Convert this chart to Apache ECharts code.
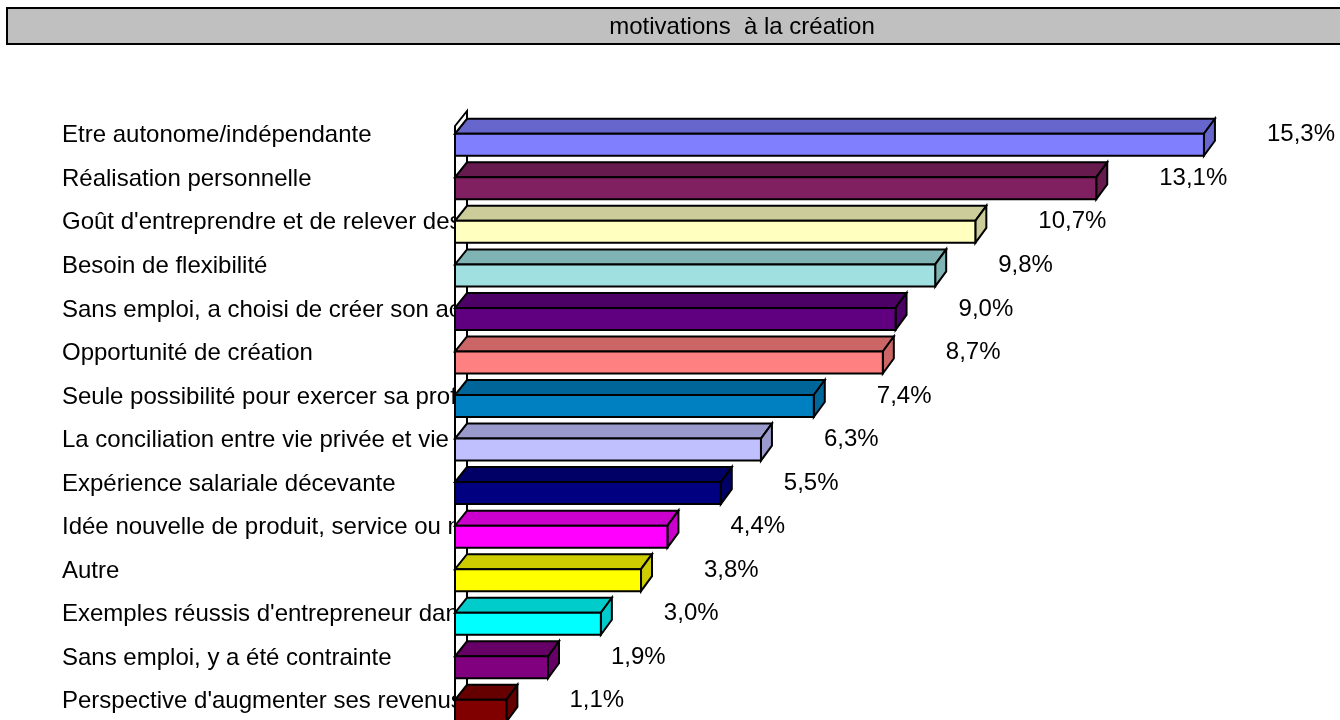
<!DOCTYPE html>
<html>
<head>
<meta charset="utf-8">
<style>html,body{margin:0;padding:0;background:#fff;overflow:hidden}#c{width:1340px;height:720px}</style>
<script src="https://cdn.jsdelivr.net/npm/echarts@6/dist/echarts.min.js"></script>
</head>
<body>
<div id="c"></div>
<script>
const titleText = 'motivations  à la création';
const categories = [
  'Etre autonome/indépendante',
  'Réalisation personnelle',
  "Goût d'entreprendre et de relever des défis",
  'Besoin de flexibilité',
  'Sans emploi, a choisi de créer son activité',
  'Opportunité de création',
  'Seule possibilité pour exercer sa profession',
  'La conciliation entre vie privée et vie professionnelle',
  'Expérience salariale décevante',
  'Idée nouvelle de produit, service ou marché',
  'Autre',
  "Exemples réussis d'entrepreneur dans l'entourage",
  'Sans emploi, y a été contrainte',
  "Perspective d'augmenter ses revenus"
];
const values = [15.3, 13.1, 10.63, 9.81, 9.0, 8.74, 7.33, 6.25, 5.43, 4.34, 3.8, 2.98, 1.9, 1.05];
const valueLabels = ['15,3%','13,1%','10,7%','9,8%','9,0%','8,7%','7,4%','6,3%','5,5%','4,4%','3,8%','3,0%','1,9%','1,1%'];
const frontColors = ['#8080FF','#802060','#FFFFC0','#A0E0E0','#600080','#FF8080','#0080C0','#C0C0FF','#000080','#FF00FF','#FFFF00','#00FFFF','#800080','#800000'];
const shadeColors = ['#6666CC','#661A4D','#CCCC9A','#80B3B3','#4D0066','#CC6666','#006699','#9A9ACC','#000066','#CC00CC','#CCCC00','#00CCCC','#660066','#660000'];

const FONT = 'Liberation Sans, Arial, sans-serif';
const FS = 24;
const WALL_DX = 12, DX = 11, DY = 15, FRONT_H = 22, LABEL_GAP = 63, SHIFT = -2;
const line = {stroke:'#000', lineWidth:2, lineJoin:'miter'};

const chart = echarts.init(document.getElementById('c'), null, {renderer:'canvas'});
chart.setOption({
  animation:false,
  backgroundColor:'#fff',
  title:{text:titleText, left:742, top:15, textAlign:'center', padding:0,
    textStyle:{fontFamily:FONT, fontSize:FS, fontWeight:'normal', color:'#000'}, z:10},
  graphic:[{type:'rect', z:5, shape:{x:7, y:8, width:1470, height:36},
    style:{fill:'#C0C0C0', stroke:'#000', lineWidth:2}}],
  grid:{left:455, right:0, top:114, height:609.6, outerBoundsMode:'none'},
  xAxis:{type:'value', min:0, max:885/48.95, show:false},
  yAxis:{type:'category', inverse:true, data:categories,
    axisLine:{show:false}, axisTick:{show:false}, splitLine:{show:false},
    axisLabel:{interval:0, align:'left', margin:393, color:'#000', fontFamily:FONT, fontSize:FS}},
  series:[
    {type:'custom', silent:true, z:2, data:[0],
      renderItem(params, api){
        const s = params.coordSys;
        const top = s.y + SHIFT;
        return {type:'group', children:[
          {type:'rect', shape:{x:s.x, y:top-5, width:s.width, height:s.height+10}, style:{fill:'#fff'}},
          {type:'polygon', shape:{points:[[s.x,top+14],[s.x+WALL_DX,top-1],[s.x+WALL_DX,top+s.height],[s.x,top+s.height]]},
            style:{fill:'#fff', ...line}}
        ]};
      }},
    {type:'custom', silent:true, z:3, clip:false,
      data:values.map((v,i)=>[v,i]),
      encode:{x:0,y:1},
      renderItem(params, api){
        const i = api.value(1), v = api.value(0);
        const [x1, center] = api.coord([v, i]);
        const [x0] = api.coord([0, i]);
        const c = center + SHIFT;
        return {type:'group', children:[
          {type:'polygon', shape:{points:[[x0,c],[x1,c],[x1+DX,c-DY],[x0+WALL_DX,c-DY]]}, style:{fill:shadeColors[i], ...line}},
          {type:'polygon', shape:{points:[[x1,c],[x1+DX,c-DY],[x1+DX,c+FRONT_H-DY],[x1,c+FRONT_H]]}, style:{fill:shadeColors[i], ...line}},
          {type:'rect', shape:{x:x0, y:c, width:x1-x0, height:FRONT_H}, style:{fill:frontColors[i], ...line}},
          {type:'text', style:{x:x1+LABEL_GAP, y:c+1, text:valueLabels[i], fill:'#000',
            font:FS+'px '+FONT, textAlign:'left', textVerticalAlign:'middle'}}
        ]};
      }}
  ]
});
</script>
</body>
</html>
